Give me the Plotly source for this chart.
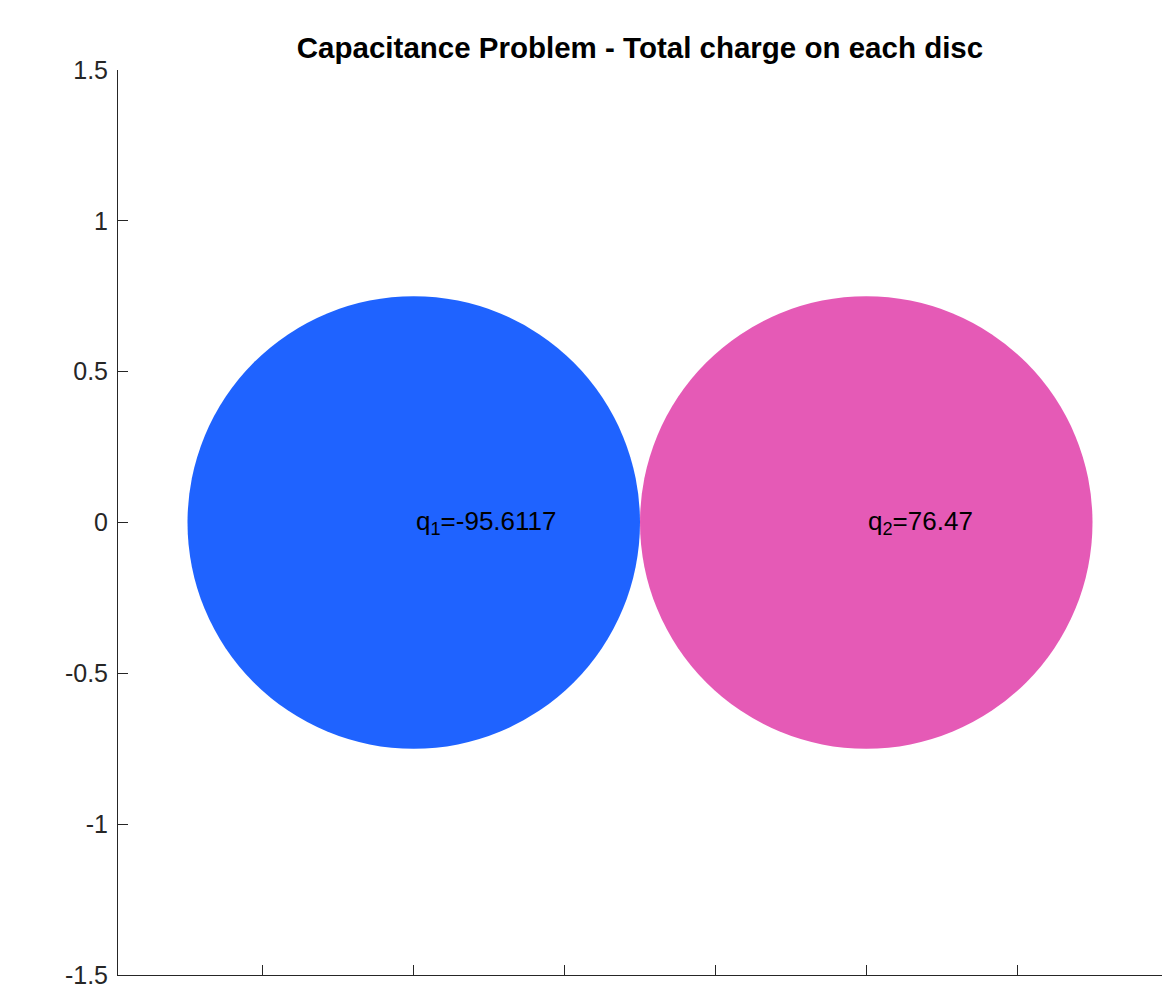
import plotly.graph_objects as go

# Disc geometry and computed total charge on each disc
disc_centers_x = [0.0, 1.5]
disc_centers_y = [0.0, 0.0]
disc_radius = [0.75, 0.75]
disc_charges = [-95.6117, 76.47]
disc_colors = ["#1F63FF", "#E55AB6"]

y_ticks = [-1.5, -1, -0.5, 0, 0.5, 1, 1.5]
y_tick_text = ["-1.5", "-1", "-0.5", "0", "0.5", "1", "1.5"]
x_ticks = [-0.5, 0, 0.5, 1, 1.5, 2]

W, H = 1170, 991
margin = dict(l=118, r=8, t=70, b=16)
plot_w = W - margin["l"] - margin["r"]
plot_h = H - margin["t"] - margin["b"]

# equal aspect: x span follows the plot box proportions, centred on the discs
y_range = [-1.5, 1.5]
x_mid = (min(c - r for c, r in zip(disc_centers_x, disc_radius)) +
         max(c + r for c, r in zip(disc_centers_x, disc_radius))) / 2
x_half = (y_range[1] - y_range[0]) / 2 * plot_w / plot_h
x_range = [x_mid - x_half, x_mid + x_half]

font_family = "Liberation Sans, Arial, Helvetica, sans-serif"
axis_color = "#262626"

fig = go.Figure()

shapes = []
annotations = []
for i, (cx, cy, r, q, col) in enumerate(zip(disc_centers_x, disc_centers_y,
                                             disc_radius, disc_charges, disc_colors), start=1):
    shapes.append(dict(type="circle", xref="x", yref="y",
                       x0=cx - r, x1=cx + r, y0=cy - r, y1=cy + r,
                       fillcolor=col, line=dict(width=0), layer="below"))
    annotations.append(dict(x=cx, y=cy, xref="x", yref="y",
                            text=f"q<sub>{i}</sub>={q:g}",
                            showarrow=False, xanchor="left", yanchor="middle",
                            font=dict(family=font_family, size=26, color="black")))

fig.update_layout(
    width=W, height=H,
    margin=margin,
    paper_bgcolor="white", plot_bgcolor="white",
    shapes=shapes,
    annotations=annotations,
    showlegend=False,
    title=dict(text="<b>Capacitance Problem - Total charge on each disc</b>",
               x=(margin["l"] + plot_w / 2) / W, xref="container", xanchor="center",
               y=1 - 48 / H, yref="container", yanchor="middle",
               font=dict(family=font_family, size=29.5, color="black")),
    xaxis=dict(range=x_range, tickvals=x_ticks, showticklabels=False,
               ticks="inside", ticklen=10, tickcolor=axis_color, tickwidth=1,
               showline=True, linecolor=axis_color, linewidth=1,
               showgrid=False, zeroline=False, fixedrange=True, automargin=False),
    yaxis=dict(range=y_range, tickvals=y_ticks, ticktext=y_tick_text,
               ticks="inside", ticklen=10, tickcolor=axis_color, tickwidth=1,
               showline=True, linecolor=axis_color, linewidth=1,
               showgrid=False, zeroline=False, fixedrange=True, automargin=False,
               ticklabelstandoff=4, ticklabeloverflow="allow",
               tickfont=dict(family=font_family, size=25, color=axis_color)),
)

fig.write_html("out.html", config={"displayModeBar": False})
